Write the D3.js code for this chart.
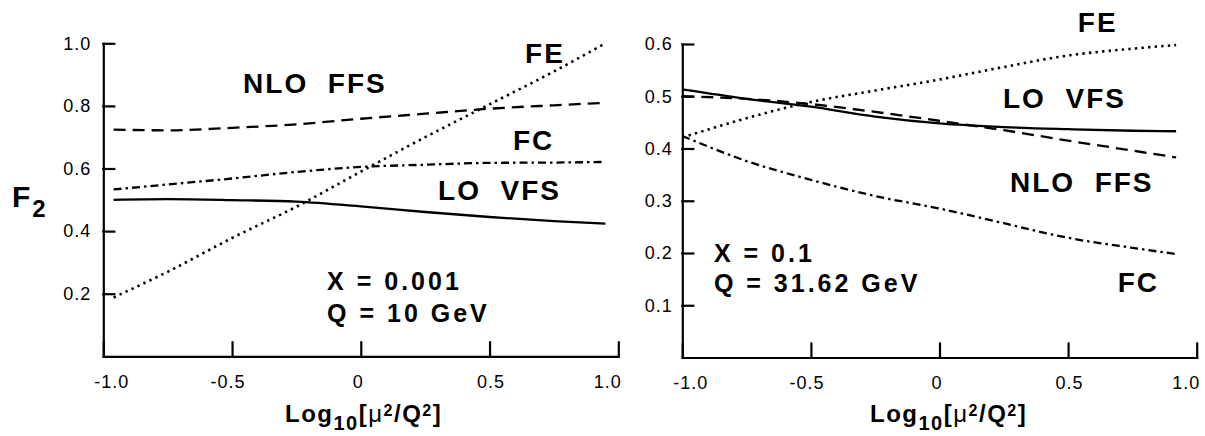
<!DOCTYPE html>
<html>
<head>
<meta charset="utf-8">
<script src="https://cdn.jsdelivr.net/npm/d3@7"></script>
<style>
  body { margin: 0; background: #fff; }
  svg text { font-family: Arial, "Liberation Sans", sans-serif; white-space: pre; }
</style>
</head>
<body>
<svg id="chart" width="1205" height="436"></svg>
<script>
// x positions of the sampled points, log10(mu^2/Q^2)
const muLeft = [-0.96, -0.75, -0.5, -0.25, 0, 0.25, 0.5, 0.75, 0.95];
const muRight = [-1.0, -0.75, -0.5, -0.25, 0, 0.25, 0.5, 0.75, 0.92];

// x = 0.001, Q = 10 GeV
const loVfsLeft  = [0.500, 0.502, 0.499, 0.494, 0.479, 0.461, 0.445, 0.432, 0.424];
const nloFfsLeft = [0.724, 0.722, 0.730, 0.741, 0.759, 0.775, 0.791, 0.802, 0.810];
const fcLeft     = [0.533, 0.549, 0.568, 0.589, 0.605, 0.612, 0.618, 0.619, 0.621];
const feLeft     = [0.188, 0.270, 0.378, 0.478, 0.590, 0.700, 0.805, 0.910, 1.000];

// x = 0.1, Q = 31.62 GeV
const loVfsRight  = [0.513, 0.495, 0.480, 0.461, 0.448, 0.441, 0.437, 0.434, 0.433];
const nloFfsRight = [0.500, 0.495, 0.485, 0.470, 0.453, 0.435, 0.415, 0.396, 0.383];
const fcRight     = [0.424, 0.376, 0.340, 0.309, 0.285, 0.257, 0.229, 0.210, 0.198];
const feRight     = [0.421, 0.458, 0.489, 0.511, 0.532, 0.556, 0.578, 0.591, 0.598];

// tick labels
const xTicks = [-1.0, -0.5, 0, 0.5, 1.0];
const yTicksLeft = [0.2, 0.4, 0.6, 0.8, 1.0];
const yTicksRight = [0.1, 0.2, 0.3, 0.4, 0.5, 0.6];

// curve labels and kinematics, placed in data units
const labelsLeft = [["FE", 0.638, 0.937], ["NLO  FFS", -0.457, 0.841], ["FC", 0.591, 0.659], ["LO  VFS", 0.300, 0.499]];
const infoLeft = [["X = 0.001", -0.131, 0.212], ["Q = 10 GeV", -0.131, 0.111]];
const labelsRight = [["FE", 0.538, 0.6235], ["LO  VFS", 0.247, 0.477], ["NLO  FFS", 0.274, 0.317], ["FC", 0.693, 0.126]];
const infoRight = [["X = 0.1", -0.877, 0.183], ["Q = 31.62 GeV", -0.877, 0.1254]];

// line style per scheme
const dashes = { lo: null, nlo: "12,7", fc: "8,4,2.5,4", fe: "2.4,4.2" };
// small nudges of the x tick labels, as in the original
const xLabelShift = [8, -4.5, -3, 1, -11];

const fmt = d => d === 0 ? "0" : d3.format(".1f")(d).replace("\u2212", "-");

const svg = d3.select("#chart");

function drawPanel(p) {
  const x = d3.scaleLinear().domain([-1, 1]).range([p.left, p.right]);
  const y = d3.scaleLinear().domain([0, p.yMax]).range([p.bottom, p.top]);
  const g = svg.append("g");

  // axes
  const yAxis = d3.axisLeft(y).tickValues(p.yTicks).tickSize(-11).tickSizeOuter(0)
    .tickPadding(p.yPad).tickFormat(fmt);
  const xAxis = d3.axisBottom(x).tickValues(xTicks).tickSize(-14).tickSizeOuter(0)
    .tickPadding(19).tickFormat(fmt);

  const ya = g.append("g").attr("transform", `translate(${p.left},0)`).call(yAxis);
  const xa = g.append("g").attr("transform", `translate(0,${p.bottom})`).call(xAxis);
  [ya, xa].forEach(a => {
    a.attr("font-family", null);
    a.selectAll("path, line").attr("stroke", "#000").attr("stroke-width", 2.2).attr("stroke-linecap", "square");
    a.selectAll("text").attr("fill", "#000")
      .style("font-size", "18px").style("letter-spacing", "1px");
  });
  xa.selectAll("text").attr("dx", (d, i) => xLabelShift[i]);

  // curves
  const line = d3.line().x(d => x(d[0])).y(d => y(d[1])).curve(d3.curveMonotoneX);
  p.series.forEach(s => {
    g.append("path")
      .datum(p.mu.map((m, i) => [m, s.values[i]]))
      .attr("d", line)
      .attr("fill", "none")
      .attr("stroke", "#000")
      .attr("stroke-width", s.key === "fe" ? 2.6 : 2.3)
      .attr("stroke-dasharray", dashes[s.key]);
  });

  // curve labels
  g.selectAll(".lbl").data(p.labels).enter().append("text")
    .attr("class", "lbl")
    .attr("x", d => x(d[1])).attr("y", d => y(d[2]))
    .style("font-size", "28px").style("font-weight", "bold")
    .style("letter-spacing", "2px")
    .text(d => d[0]);

  g.selectAll(".info").data(p.info).enter().append("text")
    .attr("class", "info")
    .attr("x", d => x(d[1])).attr("y", d => y(d[2]))
    .style("font-size", "25px").style("font-weight", "bold")
    .style("letter-spacing", "3px")
    .text(d => d[0]);

  // x axis title: Log10[mu^2/Q^2]
  const t = g.append("text")
    .attr("x", p.titleX).attr("y", 421.5)
    .style("font-size", "24px").style("font-weight", "bold")
    .style("letter-spacing", "1.5px");
  t.append("tspan").text("Log");
  t.append("tspan").style("font-size", "20px").attr("dy", 8.3).text("10");
  t.append("tspan").attr("dy", -8.3).text("[");
  t.append("tspan").style("font-weight", "normal").text("\u03bc");
  t.append("tspan").style("font-size", "16px").attr("dy", -6).text("2");
  t.append("tspan").attr("dy", 6).text("/Q");
  t.append("tspan").style("font-size", "16px").attr("dy", -6).text("2");
  t.append("tspan").attr("dy", 6).text("]");
}

drawPanel({
  left: 103.3, right: 618.3, top: 43.3, bottom: 356.3, yMax: 1.0,
  yTicks: yTicksLeft, yPad: 12, titleX: 285, mu: muLeft,
  series: [
    { key: "lo", values: loVfsLeft },
    { key: "nlo", values: nloFfsLeft },
    { key: "fc", values: fcLeft },
    { key: "fe", values: feLeft }
  ],
  labels: labelsLeft, info: infoLeft
});

drawPanel({
  left: 682.3, right: 1196.7, top: 44, bottom: 357.5, yMax: 0.6,
  yTicks: yTicksRight, yPad: 9.5, titleX: 870, mu: muRight,
  series: [
    { key: "lo", values: loVfsRight },
    { key: "nlo", values: nloFfsRight },
    { key: "fc", values: fcRight },
    { key: "fe", values: feRight }
  ],
  labels: labelsRight, info: infoRight
});

// F2 y label
const f2 = svg.append("text")
  .attr("x", 12).attr("y", 207)
  .style("font-size", "30px").style("font-weight", "bold");
f2.append("tspan").text("F");
f2.append("tspan").style("font-size", "24px").attr("dx", 2).attr("dy", 9.7).text("2");
</script>
</body>
</html>
